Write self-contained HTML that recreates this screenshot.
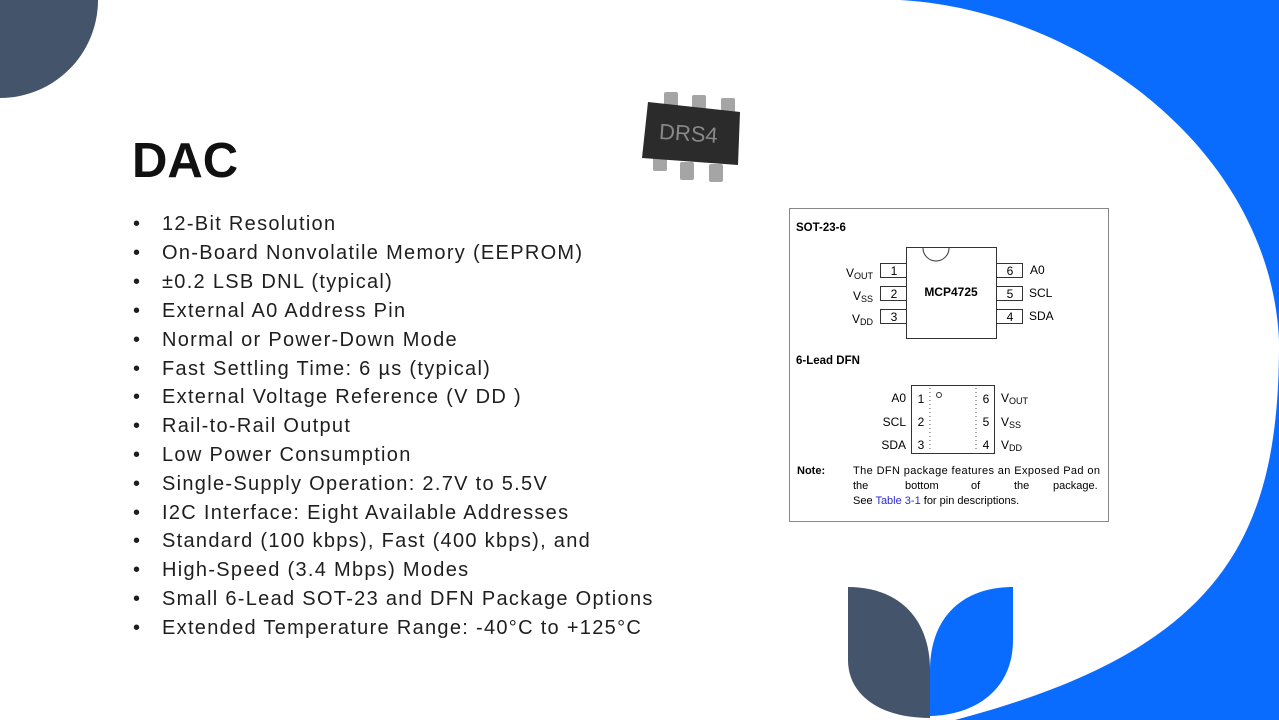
<!DOCTYPE html>
<html><head><meta charset="utf-8"><style>
html,body{margin:0;padding:0;}
body{width:1279px;height:720px;position:relative;overflow:hidden;background:#fff;font-family:"Liberation Sans",sans-serif;}
svg{position:absolute;left:0;top:0;}
.b{position:absolute;left:133px;font-size:20px;letter-spacing:1.3px;color:#1e1e1e;white-space:nowrap;}
.b span{position:absolute;left:29px;}
</style></head><body>
<svg width="1279" height="720" viewBox="0 0 1279 720">
  <path d="M900,0 C1080,10 1270,150 1279,340 C1280,540 1220,650 955,720 L1279,720 L1279,0 Z" fill="#0a6cff"/>
  <circle cx="0" cy="0" r="98" fill="#44546a"/>
  <path d="M848,587 L848,660 C848,695 880,718 930,718 L930,670 C930,620 900,587 848,587 Z" fill="#44546a"/>
  <path d="M1013,587 L1013,640 C1013,690 975,715 930,716 L930,670 C930,620 960,587 1013,587 Z" fill="#0a6cff"/>
  <g>
    <rect x="664" y="92" width="14" height="16" rx="2" fill="#a5a5a5"/>
    <rect x="692" y="95" width="14" height="16" rx="2" fill="#a5a5a5"/>
    <rect x="721" y="98" width="14" height="16" rx="2" fill="#a5a5a5"/>
    <rect x="653" y="155" width="14" height="16" rx="2" fill="#a5a5a5"/>
    <rect x="680" y="162" width="14" height="18" rx="2" fill="#a5a5a5"/>
    <rect x="709" y="164" width="14" height="18" rx="2" fill="#a5a5a5"/>
    <path d="M648,102 L740,112 L738,165 L642,158 Z" fill="#2b2b2b"/>
    <text x="659" y="141" font-size="22" fill="#888" font-family="Liberation Sans" transform="rotate(4 690 135)">DRS4</text>
  </g>
  <rect x="789.5" y="208.5" width="319" height="313" fill="#fff" stroke="#888" stroke-width="1"/>
  <g font-family="Liberation Sans" fill="#000">
    <text x="796" y="231" font-size="11.5" font-weight="bold">SOT-23-6</text>
    <rect x="906.5" y="247.5" width="90" height="91" fill="none" stroke="#333"/>
    <path d="M923,248 A13,13 0 0 0 949,248" fill="none" stroke="#333"/>
    <text x="951" y="296" font-size="12" font-weight="bold" text-anchor="middle">MCP4725</text>
    <g fill="none" stroke="#333">
      <rect x="880.5" y="263.5" width="26" height="14"/>
      <rect x="880.5" y="286.5" width="26" height="14"/>
      <rect x="880.5" y="309.5" width="26" height="14"/>
      <rect x="996.5" y="263.5" width="26" height="14"/>
      <rect x="996.5" y="286.5" width="26" height="14"/>
      <rect x="996.5" y="309.5" width="26" height="14"/>
    </g>
    <g font-size="12" text-anchor="middle">
      <text x="894" y="275">1</text><text x="894" y="298">2</text><text x="894" y="321">3</text>
      <text x="1010" y="275">6</text><text x="1010" y="298">5</text><text x="1010" y="321">4</text>
    </g>
    <g font-size="12" text-anchor="end">
      <text x="873" y="277">V<tspan font-size="9" dy="2">OUT</tspan></text>
      <text x="873" y="300">V<tspan font-size="9" dy="2">SS</tspan></text>
      <text x="873" y="323">V<tspan font-size="9" dy="2">DD</tspan></text>
    </g>
    <g font-size="12">
      <text x="1030" y="274">A0</text><text x="1029" y="297">SCL</text><text x="1029" y="320">SDA</text>
    </g>
    <text x="796" y="364" font-size="11.5" font-weight="bold">6-Lead DFN</text>
    <rect x="911.5" y="385.5" width="83" height="68" fill="none" stroke="#333"/>
    <g stroke="#555" stroke-dasharray="1,3" fill="none">
      <line x1="930" y1="388" x2="930" y2="452"/>
      <line x1="976" y1="388" x2="976" y2="452"/>
    </g>
    <circle cx="939" cy="395" r="2.5" fill="none" stroke="#333"/>
    <g font-size="12" text-anchor="middle">
      <text x="921" y="403">1</text><text x="921" y="426">2</text><text x="921" y="449">3</text>
      <text x="986" y="403">6</text><text x="986" y="426">5</text><text x="986" y="449">4</text>
    </g>
    <g font-size="12" text-anchor="end">
      <text x="906" y="402">A0</text><text x="906" y="426">SCL</text><text x="906" y="449">SDA</text>
    </g>
    <g font-size="12">
      <text x="1001" y="402">V<tspan font-size="9" dy="2">OUT</tspan></text>
      <text x="1001" y="426">V<tspan font-size="9" dy="2">SS</tspan></text>
      <text x="1001" y="449">V<tspan font-size="9" dy="2">DD</tspan></text>
    </g>
    <text x="797" y="474" font-size="11" font-weight="bold">Note:</text>
    <g font-size="11">
      <text x="853" y="474" textLength="247">The DFN package features an Exposed Pad on</text>
      <text x="853" y="489">the</text><text x="905" y="489">bottom</text><text x="971" y="489">of</text><text x="1014" y="489">the</text><text x="1053" y="489">package.</text>
      <text x="853" y="504">See <tspan fill="#2a2ad8">Table 3-1</tspan> for pin descriptions.</text>
    </g>
  </g>
  <text x="132" y="177" font-family="Liberation Sans" font-weight="bold" font-size="49" fill="#111">DAC</text>
</svg>
<div class="b" style="top:213px">•<span>12-Bit Resolution</span></div>
<div class="b" style="top:242px">•<span>On-Board Nonvolatile Memory (EEPROM)</span></div>
<div class="b" style="top:271px">•<span>±0.2 LSB DNL (typical)</span></div>
<div class="b" style="top:300px">•<span>External A0 Address Pin</span></div>
<div class="b" style="top:329px">•<span>Normal or Power-Down Mode</span></div>
<div class="b" style="top:358px">•<span>Fast Settling Time: 6 µs (typical)</span></div>
<div class="b" style="top:386px">•<span>External Voltage Reference (V DD )</span></div>
<div class="b" style="top:415px">•<span>Rail-to-Rail Output</span></div>
<div class="b" style="top:444px">•<span>Low Power Consumption</span></div>
<div class="b" style="top:473px">•<span>Single-Supply Operation: 2.7V to 5.5V</span></div>
<div class="b" style="top:502px">•<span>I2C Interface: Eight Available Addresses</span></div>
<div class="b" style="top:530px">•<span>Standard (100 kbps), Fast (400 kbps), and</span></div>
<div class="b" style="top:559px">•<span>High-Speed (3.4 Mbps) Modes</span></div>
<div class="b" style="top:588px">•<span>Small 6-Lead SOT-23 and DFN Package Options</span></div>
<div class="b" style="top:617px">•<span>Extended Temperature Range: -40°C to +125°C</span></div>
</body></html>
